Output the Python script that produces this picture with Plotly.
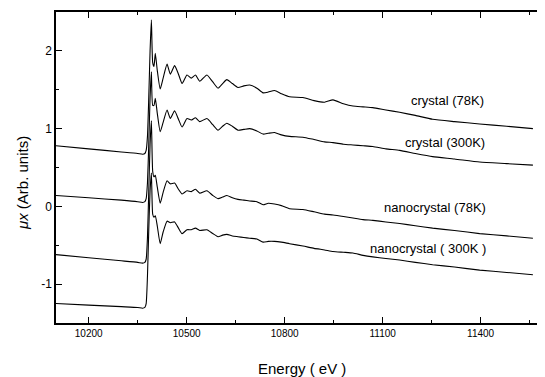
import plotly.graph_objects as go

energy = [10100, 10200, 10300, 10350, 10365, 10372, 10376, 10380, 10384, 10388, 10392, 10396,
          10400, 10404, 10410, 10419, 10428, 10440, 10450, 10463, 10475, 10486, 10501, 10514,
          10527, 10540, 10562, 10580, 10596, 10610, 10623, 10640, 10657, 10675, 10693, 10715,
          10734, 10750, 10769, 10790, 10815, 10856, 10890, 10922, 10948, 10980, 11009, 11040,
          11070, 11110, 11152, 11200, 11253, 11320, 11397, 11480, 11560]

crystal_78K = [0.78, 0.74, 0.70, 0.68, 0.67, 0.68, 0.72, 0.90, 1.40, 2.00, 2.40, 1.85,
               1.80, 1.97, 1.75, 1.51, 1.65, 1.83, 1.70, 1.81, 1.70, 1.58, 1.69, 1.65,
               1.69, 1.61, 1.69, 1.60, 1.52, 1.58, 1.63, 1.58, 1.53, 1.55, 1.56, 1.52,
               1.46, 1.47, 1.49, 1.45, 1.41, 1.40, 1.36, 1.34, 1.37, 1.32, 1.29, 1.28,
               1.27, 1.24, 1.21, 1.17, 1.12, 1.09, 1.06, 1.03, 1.00]

crystal_300K = [0.14, 0.11, 0.08, 0.06, 0.05, 0.06, 0.10, 0.30, 0.80, 1.40, 1.73, 1.30,
                1.30, 1.39, 1.20, 0.96, 1.08, 1.24, 1.13, 1.23, 1.12, 1.02, 1.13, 1.11,
                1.14, 1.09, 1.13, 1.05, 0.98, 1.03, 1.07, 1.03, 0.98, 0.99, 1.00, 0.97,
                0.93, 0.94, 0.95, 0.92, 0.90, 0.89, 0.86, 0.83, 0.82, 0.80, 0.79, 0.78,
                0.77, 0.74, 0.72, 0.68, 0.64, 0.61, 0.57, 0.55, 0.53]

nano_78K = [-0.62, -0.66, -0.70, -0.72, -0.73, -0.72, -0.68, -0.40, 0.20, 0.80, 1.10, 0.45,
            0.38, 0.40, 0.25, 0.04, 0.18, 0.33, 0.29, 0.30, 0.22, 0.16, 0.20, 0.19,
            0.22, 0.17, 0.20, 0.14, 0.10, 0.12, 0.14, 0.11, 0.09, 0.08, 0.07, 0.06,
            0.02, 0.04, 0.03, 0.01, -0.03, -0.04, -0.07, -0.10, -0.11, -0.13, -0.15, -0.17,
            -0.18, -0.20, -0.22, -0.25, -0.28, -0.31, -0.35, -0.38, -0.41]

nano_300K = [-1.25, -1.27, -1.29, -1.30, -1.31, -1.30, -1.25, -0.90, -0.30, 0.20, 0.43, -0.10,
             -0.14, -0.12, -0.25, -0.48, -0.33, -0.19, -0.21, -0.20, -0.28, -0.35, -0.30, -0.30,
             -0.28, -0.31, -0.30, -0.35, -0.39, -0.37, -0.36, -0.38, -0.39, -0.40, -0.41, -0.42,
             -0.46, -0.45, -0.45, -0.46, -0.48, -0.51, -0.54, -0.56, -0.58, -0.59, -0.60, -0.63,
             -0.65, -0.67, -0.69, -0.72, -0.75, -0.78, -0.82, -0.85, -0.88]

series = [("crystal (78K)", crystal_78K), ("crystal (300K)", crystal_300K),
          ("nanocrystal (78K)", nano_78K), ("nanocrystal ( 300K )", nano_300K)]

labels = ["crystal (78K)", "crystal (300K)", "nanocrystal (78K)", "nanocrystal ( 300K )"]
label_x = [11299, 11290, 11259, 11238]
label_y = [1.36, 0.82, -0.01, -0.54]

x_ticks = [10200, 10500, 10800, 11100, 11400]
y_ticks = [-1, 0, 1, 2]

FONT = "Liberation Sans, Arial"

fig = go.Figure()
for name, vals in series:
    fig.add_trace(go.Scatter(x=energy, y=vals, mode="lines", name=name,
                             line=dict(color="black", width=1.1, shape="spline", smoothing=0.5),
                             showlegend=False))

for t, xx, yy in zip(labels, label_x, label_y):
    fig.add_annotation(x=xx, y=yy, text=t, showarrow=False,
                       font=dict(family=FONT, size=13, color="black"))

# axis titles
fig.add_annotation(xref="paper", yref="paper", x=0.503, y=-0.145, text="Energy ( eV )",
                   showarrow=False, xanchor="center", yanchor="middle",
                   font=dict(family=FONT, size=15, color="black"))
fig.add_annotation(xref="paper", yref="paper", x=-0.0695, y=0.45, text="<i>μx</i> (Arb. units)",
                   showarrow=False, xanchor="center", yanchor="middle", textangle=-90,
                   font=dict(family=FONT, size=15, color="black"))

# page body has an 8px margin, so the figure is sized to fit inside the window
fig.update_layout(
    width=537, height=369,
    margin=dict(l=48, r=0, t=4, b=54, autoexpand=False),
    paper_bgcolor="white", plot_bgcolor="white",
    font=dict(family=FONT, color="black"),
)
fig.update_xaxes(
    range=[10100, 11597], tickvals=x_ticks, ticktext=[str(v) for v in x_ticks],
    ticks="inside", ticklen=6, tickwidth=1, tickcolor="black",
    minor=dict(dtick=150, tick0=10200, ticks="inside", ticklen=3, tickcolor="black"),
    showline=True, linecolor="black", linewidth=1.5, mirror="ticks",
    showgrid=False, zeroline=False, automargin=False,
    tickfont=dict(size=10),
)
fig.update_yaxes(
    range=[-1.5, 2.5], tickvals=y_ticks, ticktext=["-1", "0", "1", "2"],
    ticks="inside", ticklen=6, tickwidth=1, tickcolor="black",
    minor=dict(dtick=0.5, tick0=0, ticks="inside", ticklen=3, tickcolor="black"),
    showline=True, linecolor="black", linewidth=1.5, mirror=False,
    showgrid=False, zeroline=False, automargin=False,
    tickfont=dict(size=12),
)

fig.write_html("out.html")
